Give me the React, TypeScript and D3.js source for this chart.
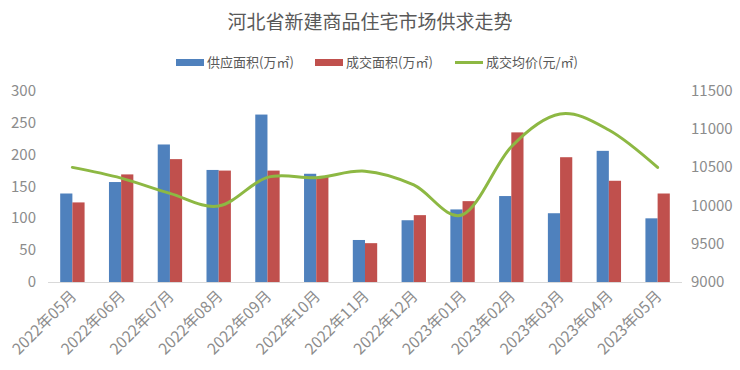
import React, { useEffect, useRef } from 'react';
import * as d3 from 'd3';

const months = [
  '2022年05月', '2022年06月', '2022年07月', '2022年08月', '2022年09月', '2022年10月', '2022年11月',
  '2022年12月', '2023年01月', '2023年02月', '2023年03月', '2023年04月', '2023年05月',
];
const supplyArea = [139, 157, 216, 176, 263, 170, 66, 97, 114, 135, 108, 206, 100];
const dealArea = [125, 169, 193, 175, 175, 165, 61, 105, 127, 235, 196, 159, 139];
const avgPrice = [10500, 10360, 10160, 9995, 10370, 10365, 10450, 10270, 9880, 10770, 11200, 10990, 10500];
const leftTicks = [0, 50, 100, 150, 200, 250, 300];
const rightTicks = [9000, 9500, 10000, 10500, 11000, 11500];

const FONT = '"Noto Sans CJK SC", "Noto Sans", sans-serif';

export default function App() {
  const svgRef = useRef<SVGSVGElement>(null);

  useEffect(() => {
    document.body.style.margin = '0';
    if (!svgRef.current) return;
    const svg = d3.select(svgRef.current);
    svg.selectAll('*').remove();

    const width = 740;
    const height = 370;
    const margin = { top: 91, right: 58, bottom: 88, left: 48 };

    const x = d3.scaleBand().domain(months).range([margin.left, width - margin.right]).paddingInner(0.5).paddingOuter(0.25);
    const xSub = d3.scaleBand().domain(['supply', 'deal']).range([0, x.bandwidth()]);
    const yLeft = d3.scaleLinear().domain([0, 300]).range([height - margin.bottom, margin.top]);
    const yRight = d3.scaleLinear().domain([9000, 11500]).range([height - margin.bottom, margin.top]);

    // title
    svg.append('text')
      .attr('x', width / 2)
      .attr('y', 29)
      .attr('text-anchor', 'middle')
      .style('font-family', FONT)
      .style('font-size', '19px')
      .attr('fill', '#595959')
      .text('河北省新建商品住宅市场供求走势');

    // legend
    const legend = [
      { label: '供应面积(万㎡)', color: '#4f81bd', type: 'bar', x: 176 },
      { label: '成交面积(万㎡)', color: '#c0504d', type: 'bar', x: 315 },
      { label: '成交均价(元/㎡)', color: '#8db843', type: 'line', x: 455 },
    ];
    const lg = svg.append('g').attr('class', 'legend');
    legend.forEach(l => {
      if (l.type === 'bar') {
        lg.append('rect').attr('x', l.x).attr('y', 59).attr('width', 28).attr('height', 7).attr('fill', l.color);
      } else {
        lg.append('line').attr('x1', l.x).attr('x2', l.x + 28).attr('y1', 62.5).attr('y2', 62.5)
          .attr('stroke', l.color).attr('stroke-width', 3);
      }
      lg.append('text')
        .attr('x', l.x + 31)
        .attr('y', 67)
        .style('font-family', FONT)
        .style('font-size', '13px')
        .attr('fill', '#595959')
        .text(l.label);
    });

    // left axis labels
    svg.append('g')
      .selectAll('text')
      .data(leftTicks)
      .enter()
      .append('text')
      .attr('x', 36)
      .attr('y', d => yLeft(d) + 5)
      .attr('text-anchor', 'end')
      .style('font-family', FONT)
      .style('font-size', '15px')
      .attr('fill', '#8c8c8c')
      .text(d => d);

    // right axis labels
    svg.append('g')
      .selectAll('text')
      .data(rightTicks)
      .enter()
      .append('text')
      .attr('x', 691)
      .attr('y', d => yRight(d) + 5)
      .attr('text-anchor', 'start')
      .style('font-family', FONT)
      .style('font-size', '15px')
      .attr('fill', '#8c8c8c')
      .text(d => d);

    // bars
    const groups = svg.append('g')
      .selectAll('g')
      .data(months)
      .enter()
      .append('g')
      .attr('transform', d => `translate(${x(d)},0)`);

    groups.append('rect')
      .attr('x', xSub('supply') || 0)
      .attr('y', (_, i) => yLeft(supplyArea[i]))
      .attr('width', xSub.bandwidth())
      .attr('height', (_, i) => yLeft(0) - yLeft(supplyArea[i]))
      .attr('fill', '#4f81bd');

    groups.append('rect')
      .attr('x', xSub('deal') || 0)
      .attr('y', (_, i) => yLeft(dealArea[i]))
      .attr('width', xSub.bandwidth())
      .attr('height', (_, i) => yLeft(0) - yLeft(dealArea[i]))
      .attr('fill', '#c0504d');

    // baseline
    svg.append('line')
      .attr('x1', margin.left)
      .attr('x2', width - margin.right)
      .attr('y1', yLeft(0) + 0.5)
      .attr('y2', yLeft(0) + 0.5)
      .attr('stroke', '#d9d9d9')
      .attr('stroke-width', 1);

    // price line
    const line = d3.line<number>()
      .x((_, i) => (x(months[i]) || 0) + x.bandwidth() / 2)
      .y(d => yRight(d))
      .curve(d3.curveCardinal.tension(0));

    svg.append('path')
      .datum(avgPrice)
      .attr('d', line)
      .attr('fill', 'none')
      .attr('stroke', '#8db843')
      .attr('stroke-width', 3)
      .attr('stroke-linecap', 'round');

    // x labels
    svg.append('g')
      .selectAll('text')
      .data(months)
      .enter()
      .append('text')
      .attr('transform', d => `translate(${(x(d) || 0) + x.bandwidth() / 2 + 5},${yLeft(0) + 15}) rotate(-45)`)
      .attr('text-anchor', 'end')
      .style('font-family', FONT)
      .style('font-size', '15.5px')
      .attr('fill', '#8c8c8c')
      .text(d => d);
  }, []);

  return (
    <div style={{ width: 740, height: 370, background: '#fff' }}>
      <svg ref={svgRef} width={740} height={370} style={{ display: 'block' }} />
    </div>
  );
}
